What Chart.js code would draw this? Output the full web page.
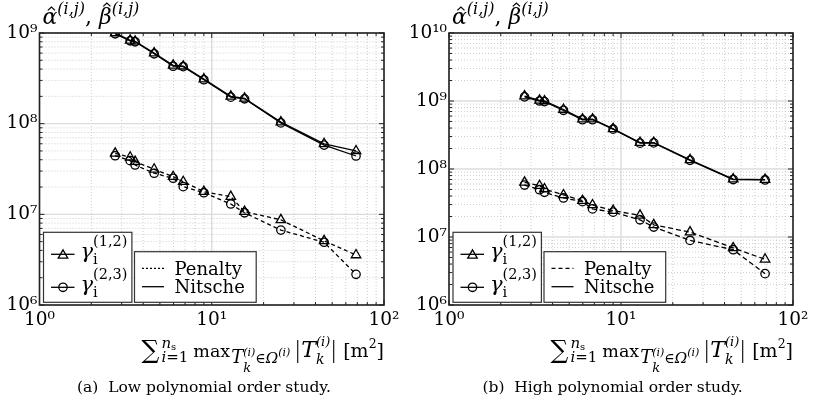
<!DOCTYPE html>
<html>
<head>
<meta charset="utf-8">
<script src="https://cdn.jsdelivr.net/npm/chart.js@4.4.1/dist/chart.umd.min.js"></script>
<style>
  body { margin: 0; background: #fff; }
  .panel { position: absolute; top: 0; height: 403px; }
</style>
</head>
<body>
<div class="panel" style="left:0;width:408px"><canvas id="lowChart" width="408" height="403"></canvas></div>
<div class="panel" style="left:408px;width:409px"><canvas id="highChart" width="409" height="403"></canvas></div>
<script>
  // element size sum over subdomains (x axis), shared by every series
  const elemSize = [2.75, 3.36, 3.59, 4.63, 5.97, 6.83, 9.0, 12.9, 15.5, 25.2, 44.9, 68.8];

  // (a) low polynomial order
  const lowNitsche12 = [1.0e9, 8.3e8, 8.1e8, 6.0e8, 4.4e8, 4.3e8, 3.1e8, 2.0e8, 1.9e8, 1.04e8, 6.0e7, 5.0e7];
  const lowNitsche23 = [9.8e8, 8.2e8, 8.0e8, 5.9e8, 4.3e8, 4.25e8, 3.05e8, 1.96e8, 1.88e8, 1.02e8, 5.8e7, 4.4e7];
  const lowPenalty12 = [4.7e7, 4.26e7, 3.81e7, 3.14e7, 2.6e7, 2.29e7, 1.78e7, 1.57e7, 1.07e7, 8.7e6, 5.1e6, 3.56e6];
  const lowPenalty23 = [4.43e7, 3.91e7, 3.5e7, 2.84e7, 2.5e7, 2.02e7, 1.73e7, 1.3e7, 1.04e7, 6.7e6, 4.92e6, 2.18e6];

  // (b) high polynomial order
  const highNitsche12 = [1.18e9, 1.02e9, 1.0e9, 7.5e8, 5.4e8, 5.4e8, 3.9e8, 2.45e8, 2.45e8, 1.36e8, 7.1e7, 7.0e7];
  const highNitsche23 = [1.15e9, 1.0e9, 9.8e8, 7.3e8, 5.3e8, 5.3e8, 3.85e8, 2.4e8, 2.42e8, 1.34e8, 7.0e7, 6.9e7];
  const highPenalty12 = [6.37e7, 5.68e7, 5.08e7, 4.15e7, 3.42e7, 2.96e7, 2.44e7, 2.08e7, 1.51e7, 1.18e7, 6.9e6, 4.7e6];
  const highPenalty23 = [5.81e7, 4.96e7, 4.54e7, 3.75e7, 3.31e7, 2.59e7, 2.32e7, 1.79e7, 1.4e7, 8.9e6, 6.5e6, 2.89e6];

  const xTickDecades = [0, 1, 2];
  const captions = ["(a)  Low polynomial order study.", "(b)  High polynomial order study."];

  const FONT = "'DejaVu Serif', serif";
  const SUP = { "0": "\u2070", "1": "\u00b9", "2": "\u00b2", "3": "\u00b3", "4": "\u2074", "5": "\u2075", "6": "\u2076", "7": "\u2077", "8": "\u2078", "9": "\u2079" };
  const isPow10 = v => Math.abs(Math.log10(v) - Math.round(Math.log10(v))) < 1e-9;
  const powLabel = v => "10" + String(Math.round(Math.log10(v))).split("").map(c => SUP[c]).join("");

  function logTicks(lo, hi) {
    const out = [];
    for (let e = lo; e < hi; e++)
      for (let m = 1; m < 10; m++) out.push(m * Math.pow(10, e));
    out.push(Math.pow(10, hi));
    return out;
  }

  function pts(ys) {
    return elemSize.map((x, i) => ({ x: x, y: ys[i] }));
  }

  // small text-run helper for the math labels
  function put(ctx, s, x, y, size, italic, dry) {
    ctx.font = (italic ? "italic " : "") + size + "px " + FONT;
    if (!dry) ctx.fillText(s, x, y);
    return ctx.measureText(s).width;
  }
  function hat(ctx, cx, top) {
    ctx.save();
    ctx.lineWidth = 1.2;
    ctx.beginPath();
    ctx.moveTo(cx - 3.6, top + 3.4);
    ctx.lineTo(cx, top);
    ctx.lineTo(cx + 3.6, top + 3.4);
    ctx.stroke();
    ctx.restore();
  }
  function run(ctx, items, x, base, dry) {
    for (const it of items) {
      if (it.stack) {
        let w = 0;
        for (const r of it.stack) w = Math.max(w, run(ctx, r, x, base, dry) - x);
        x += w;
      } else if (it.bar) {
        if (!dry) {
          ctx.save();
          ctx.lineWidth = 1.1;
          ctx.beginPath();
          ctx.moveTo(x + 2.5, base + it.bar[0]);
          ctx.lineTo(x + 2.5, base + it.bar[1]);
          ctx.stroke();
          ctx.restore();
        }
        x += 6;
      } else if (it.sp) {
        x += it.sp;
      } else {
        const w = put(ctx, it.t, x, base + (it.dy || 0), it.s, it.i, dry);
        if (it.hat && !dry) hat(ctx, x + w / 2 + 1.5, base - it.hat);
        x += w;
      }
    }
    return x;
  }

  const xTitle = [
    { t: "\u2211", s: 25, dy: 1 },
    { sp: 2 },
    { stack: [
      [{ t: "n", s: 15, i: 1, dy: -9 }, { t: "s", s: 10, dy: -7 }],
      [{ t: "i", s: 15, i: 1, dy: 5 }, { t: "=1", s: 15, dy: 5 }]
    ] },
    { sp: 5 },
    { t: "max", s: 17.5 },
    { sp: 1 },
    { t: "T", s: 18, i: 1, dy: 6 },
    { stack: [[{ t: "(i)", s: 11, i: 1, dy: -1 }], [{ t: "k", s: 13, i: 1, dy: 15 }]] },
    { t: "\u2208", s: 14, dy: 6 },
    { t: "\u03a9", s: 15, i: 1, dy: 6 },
    { t: "(i)", s: 11, i: 1, dy: -1 },
    { sp: 5 },
    { bar: [-17, 6] },
    { t: "T", s: 22, i: 1 },
    { stack: [[{ t: "(i)", s: 13, i: 1, dy: -11 }], [{ t: "k", s: 14, i: 1, dy: 7 }]] },
    { sp: 1 },
    { bar: [-17, 6] },
    { sp: 6 },
    { t: "[m", s: 19 },
    { t: "2", s: 12.5, dy: -9 },
    { t: "]", s: 19 }
  ];
  const yTitle = [
    { t: "\u03b1", s: 22, i: 1, hat: 17 },
    { t: "(i,j)", s: 16, i: 1, dy: -10 },
    { t: ",", s: 22 },
    { sp: 7 },
    { t: "\u03b2", s: 22, i: 1, hat: 21 },
    { t: "(i,j)", s: 16, i: 1, dy: -10 }
  ];

  const framePlugin = {
    id: "frame",
    beforeDatasetsDraw(chart) {
      const { ctx, chartArea: a, scales: { x, y } } = chart;
      ctx.save();
      const lines = (scale, horiz) => {
        scale.ticks.forEach(t => {
          const p = scale.getPixelForValue(t.value);
          const major = isPow10(t.value);
          ctx.beginPath();
          ctx.strokeStyle = major ? "#dcdcdc" : "#c8c8c8";
          ctx.lineWidth = major ? 1.4 : 0.9;
          ctx.setLineDash(major ? [] : [1, 2]);
          if (horiz) { ctx.moveTo(a.left, p); ctx.lineTo(a.right, p); }
          else { ctx.moveTo(p, a.top); ctx.lineTo(p, a.bottom); }
          ctx.stroke();
        });
      };
      lines(x, false);
      lines(y, true);
      ctx.restore();
    },
    afterDatasetsDraw(chart) {
      const { ctx, chartArea: a, scales: { x, y } } = chart;
      ctx.save();
      ctx.strokeStyle = "#222";
      ctx.setLineDash([]);
      ctx.lineWidth = 1;
      x.ticks.forEach(t => {
        const p = x.getPixelForValue(t.value);
        const l = isPow10(t.value) ? 5 : 3;
        ctx.beginPath();
        ctx.moveTo(p, a.bottom); ctx.lineTo(p, a.bottom - l);
        ctx.moveTo(p, a.top); ctx.lineTo(p, a.top + l);
        ctx.stroke();
      });
      y.ticks.forEach(t => {
        const p = y.getPixelForValue(t.value);
        const l = isPow10(t.value) ? 5 : 3;
        ctx.beginPath();
        ctx.moveTo(a.left, p); ctx.lineTo(a.left + l, p);
        ctx.moveTo(a.right, p); ctx.lineTo(a.right - l, p);
        ctx.stroke();
      });
      ctx.lineWidth = 1.6;
      ctx.strokeRect(a.left, a.top, a.right - a.left, a.bottom - a.top);
      ctx.restore();
    },
    afterDraw(chart) {
      const { ctx, chartArea: a } = chart;
      const o = chart.options.plugins.frame;
      const L = a.left, B = a.bottom;
      ctx.save();
      ctx.fillStyle = "#000";
      ctx.strokeStyle = "#000";
      ctx.textBaseline = "alphabetic";

      // legend boxes
      ctx.lineWidth = 1.2;
      ctx.strokeStyle = "#333";
      ctx.fillStyle = "#fff";
      ctx.fillRect(L + 4, B - 72.7, 88.4, 70);
      ctx.strokeRect(L + 4, B - 72.7, 88.4, 70);
      ctx.fillRect(L + 95, B - 53.3, 121.7, 50.6);
      ctx.strokeRect(L + 95, B - 53.3, 121.7, 50.6);

      ctx.strokeStyle = "#000";
      ctx.fillStyle = "#000";
      [["triangle", 5.5, "(1,2)", 0], ["circle", 4.2, "(2,3)", 33]].forEach(([style, r, lab, off]) => {
        const ly = B - 50.7 + off;
        ctx.lineWidth = 1.3;
        ctx.beginPath();
        ctx.moveTo(L + 11.5, ly); ctx.lineTo(L + 35, ly);
        ctx.stroke();
        ctx.save();
        ctx.fillStyle = "rgba(0,0,0,0)";
        Chart.helpers.drawPoint(ctx, { pointStyle: style, radius: r, rotation: 0, borderWidth: 1.3 }, L + 23.5, ly + (style === "triangle" ? 1 : 0));
        ctx.restore();
        run(ctx, [
          { t: "\u03b3", s: 21, i: 1 },
          { stack: [[{ t: lab, s: 14.5, dy: -12 }], [{ t: "i", s: 14.5, dy: 6 }]] }
        ], L + 41, ly + 4);
      });

      [[o.legendDash, "Penalty", 0], [[], "Nitsche", 18.4]].forEach(([d, lab, off]) => {
        const ly = B - 36.7 + off;
        ctx.lineWidth = 1.3;
        ctx.setLineDash(d);
        ctx.beginPath();
        ctx.moveTo(L + 102.5, ly); ctx.lineTo(L + 124.5, ly);
        ctx.stroke();
        ctx.setLineDash([]);
        put(ctx, lab, L + 135, ly + 6.5, 18, false);
      });

      // axis titles
      run(ctx, yTitle, L + 3, 24);
      const w = run(ctx, xTitle, 0, 0, true);
      run(ctx, xTitle, a.right - w, 357);

      // caption
      ctx.textAlign = "center";
      put(ctx, o.caption, chart.width / 2, 392, 15.5, false);
      ctx.restore();
    }
  };

  function makeChart(id, yTop, series, leftW, plotDash, legendDash, caption) {
    const ds = series.map(([ys, style, dashed]) => ({
      data: pts(ys),
      borderColor: "#000",
      borderWidth: 1.3,
      borderDash: dashed ? plotDash : [],
      pointStyle: style,
      pointRadius: style === "triangle" ? 5.5 : 4.2,
      pointBorderWidth: 1.3,
      pointBorderColor: "#000",
      pointBackgroundColor: "rgba(0,0,0,0)",
      tension: 0,
      fill: false
    }));
    return new Chart(document.getElementById(id), {
      type: "line",
      data: { datasets: ds },
      options: {
        responsive: false,
        animation: false,
        layout: { padding: { left: 0, top: 33, right: 24, bottom: 76 } },
        plugins: {
          legend: { display: false },
          tooltip: { enabled: false },
          frame: { caption: caption, legendDash: legendDash }
        },
        scales: {
          x: {
            type: "logarithmic",
            min: Math.pow(10, xTickDecades[0]),
            max: Math.pow(10, xTickDecades[xTickDecades.length - 1]),
            afterBuildTicks: s => { s.ticks = logTicks(0, 2).map(v => ({ value: v })); },
            afterFit: s => { s.height = 22; },
            grid: { display: false, drawTicks: false },
            border: { display: false },
            ticks: {
              autoSkip: false, maxRotation: 0, padding: 4, color: "#000",
              font: { family: FONT, size: 18.5 },
              callback: v => isPow10(v) ? powLabel(v) : ""
            }
          },
          y: {
            type: "logarithmic",
            min: 1e6,
            max: yTop,
            afterBuildTicks: s => { s.ticks = logTicks(6, Math.round(Math.log10(yTop))).map(v => ({ value: v })); },
            afterFit: s => { s.width = leftW; },
            grid: { display: false, drawTicks: false },
            border: { display: false },
            ticks: {
              autoSkip: false, padding: 2, color: "#000",
              font: { family: FONT, size: 18.5 },
              callback: v => isPow10(v) ? powLabel(v) : ""
            }
          }
        }
      },
      plugins: [framePlugin]
    });
  }

  makeChart("lowChart", 1e9, [
    [lowNitsche12, "triangle", false],
    [lowNitsche23, "circle", false],
    [lowPenalty12, "triangle", true],
    [lowPenalty23, "circle", true]
  ], 39.5, [4, 3], [2, 2], captions[0]);

  makeChart("highChart", 1e10, [
    [highNitsche12, "triangle", false],
    [highNitsche23, "circle", false],
    [highPenalty12, "triangle", true],
    [highPenalty23, "circle", true]
  ], 41, [5, 3], [4, 3], captions[1]);
</script>
</body>
</html>
